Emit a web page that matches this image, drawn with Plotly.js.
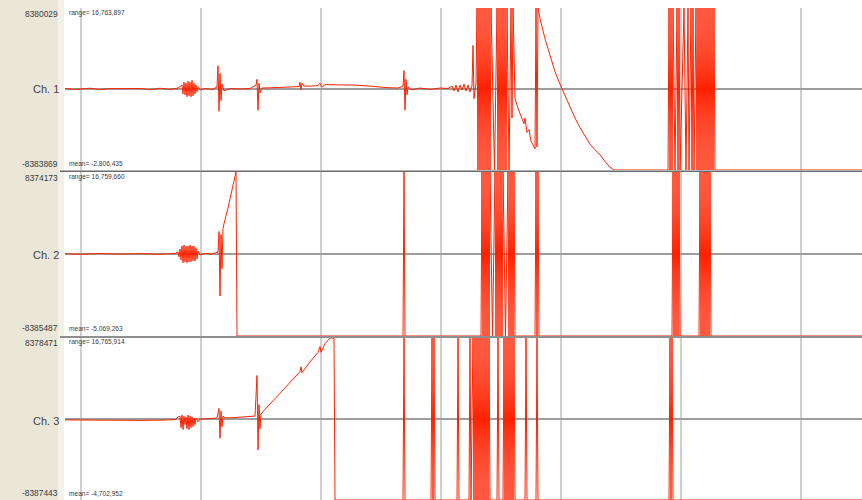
<!DOCTYPE html>
<html>
<head>
<meta charset="utf-8">
<script src="https://cdn.plot.ly/plotly-3.0.1.min.js"></script>
<style>html,body{margin:0;padding:0;background:#fff;}#chart{width:862px;height:500px;}</style>
</head>
<body>
<div id="chart"></div>
<script>
// Channel names and statistics (counts)
const channelNames = ["Ch. 1", "Ch. 2", "Ch. 3"];
const channelMax = [8380029, 8374173, 8378471];
const channelMin = [-8383869, -8385487, -8387443];
const rangeLabels = ["range= 16,763,897", "range= 16,759,660", "range= 16,765,914"];
const meanLabels = ["mean= -2,806,435", "mean= -5,069,263", "mean= -4,702,952"];

// Samples: [time (samples), value (millions of counts)]
const ch1Samples = [
[-16,0.05],[-6,-0.05],[9,0.08],[19,-0.06],[29,0.04],[44,0.02],[59,0.05],[69,-0.07],[79,0.08],[89,-0.05],[97,0.1],
[101,0.4],[102,-0.5],[103,0.7],[104,-0.6],[105,0.6],[106,-0.8],[107,0.8],[108,-0.7],[109,0.7],[110,-0.8],[111,0.9],[112,-0.7],[113,0.6],[114,-0.5],[115,0.4],[116,-0.3],[117,0.2],[119,-0.1],[124,0.05],[131,-0.05],[136,0.2],
[137,2.4],[138,-2.3],[139,1.6],[140,-1.2],[141,0.5],[143,-0.2],[149,0.05],[159,0.0],[169,0.05],
[175,0.4],[176,1.0],[177,-2.2],[178,0.6],[179,-0.4],[181,0.1],
[189,0.12],[199,0.18],[209,0.2],[218,0.25],[219,0.7],[220,-0.1],[221,0.6],[223,0.3],[229,0.3],[237,0.35],[239,0.6],[241,0.2],[244,0.45],[259,0.45],[274,0.4],[289,0.3],[304,0.15],[317,0.1],
[322,0.3],[323,1.9],[324,-2.2],[325,1.0],[326,-0.6],[327,0.2],[331,-0.1],[339,0.1],[349,-0.05],[359,0.1],[367,0.05],
[371,0.3],[373,-0.2],[375,0.4],[377,-0.3],[379,0.4],[381,-0.1],[383,0.5],[385,-0.2],[387,0.4],[389,-0.3],[391,0.3],[392,4.5],[393,-1.0],[395,0.6],
[396,8.39],[397,-8.39],[398,8.39],[399,-8.39],[400,8.39],[401,-8.39],[402,8.39],[403,-8.39],[404,8.39],[405,-8.39],[406,8.39],[407,-8.39],[408,8.39],[409,-8.39],[410,8.39],
[413.5,-8.39],[416,8.39],[417,-8.39],[418,8.39],[419,-8.39],[420,8.39],[421,-8.39],[422,8.39],[423,-8.39],[424,8.39],[425,-8.39],[426,8.39],
[428,-8.39],[430,8.39],[431,-3.0],[432,8.39],[434,-1.0],[437,-2.0],[440,-2.8],[443,-3.6],[444,-3.0],[446,-4.5],[448,-4.2],[450,-5.4],[452,-5.8],[454,-6.2],[455,8.39],[456,-6.0],[457,8.39],
[459,7.3],[464,5.2],[469,3.4],[474,1.8],[479,0.5],[484,-0.7],[489,-1.9],[494,-3.0],[499,-4.0],[504,-4.9],[509,-5.7],[514,-6.3],[519,-6.8],[524,-7.5],[529,-8.1],[533,-8.383869],
[587,-8.383869],[588,8.39],[589,-8.39],[590,8.39],[591,-8.39],[592,8.39],[594,-8.39],[596,8.39],[597,-8.39],[598,8.39],[599,-8.39],
[603,8.39],[605,-8.39],[607,8.39],[608,-8.39],[610,8.39],[611,-8.39],[612,8.39],[613,-8.39],[615,8.39],[616,-8.39],[617,8.39],
[618,-8.39],[619,8.39],[620,-8.39],[621,8.39],[622,-8.39],[623,8.39],[624,-8.39],[625,8.39],[626,-8.39],[627,8.39],[628,-8.39],[629,8.39],[630,-8.39],[631,8.39],[632,-8.39],[633,8.39],
[634,-8.383869],[781,-8.383869]
];

const ch2Samples = [
[-16,0.02],[-1,-0.03],[19,0.04],[39,-0.02],[59,0.03],[79,-0.03],[94,0.05],[97,0.2],[98,-0.3],
[99,0.5],[100,-0.6],[101,0.8],[102,-0.9],[103,0.9],[104,-0.8],[105,0.8],[106,-0.9],[107,0.8],[108,-0.8],[109,0.9],[110,-0.8],[111,0.8],[112,-0.7],[113,0.8],[114,-0.7],[115,0.6],[116,-0.5],[117,0.3],[119,-0.1],[124,0.05],[131,-0.02],
[137,0.2],[138,2.3],[139,-4.3],[140,2.0],[141,-1.5],[142,2.6],[143,3.1],[147,4.7],[151,6.4],[155,8.374173],[156,-8.385487],
[322,-8.385487],[323,8.374173],[324,-8.385487],
[400,-8.385487],[401,8.38],[402,-8.39],[403,8.38],[404,-8.39],[405,8.38],[406,-8.39],[407,8.38],[408,-8.39],[409,8.38],
[411.5,-8.39],[414,8.38],[415,-8.39],[416,8.38],[417,-8.39],[418,8.38],[419,-8.39],[420,8.38],[421,-8.39],[422,8.38],
[424.5,-8.39],[427,8.38],[428,-8.39],[429,8.38],[430,-8.39],[431,8.38],[432,-8.39],[433,8.38],[434,-8.385487],
[454,-8.385487],[455,8.38],[456,-8.39],[457,8.38],[458,-8.385487],
[591,-8.385487],[592,8.38],[593,-8.39],[594,8.38],[595,-8.39],[596,8.38],[597,-8.39],[598,8.38],[599,-8.385487],
[618,-8.385487],[619,8.38],[620,-8.39],[621,8.38],[622,-8.39],[623,8.38],[624,-8.39],[625,8.38],[626,-8.39],[627,8.38],[628,-8.39],[629,8.38],[630,-8.385487],
[781,-8.385487]
];

const ch3Samples = [
[-16,-0.1],[-1,-0.12],[19,-0.15],[39,-0.16],[59,-0.15],[79,-0.12],[94,-0.08],[97,0.2],
[99,0.3],[100,-0.9],[101,0.4],[102,-1.1],[103,0.3],[104,-0.6],[105,0.2],[106,-1.0],[107,0.4],[108,-1.1],[109,0.3],[110,-0.9],[111,0.2],[112,-0.8],[113,0.1],[114,-0.6],[115,0.1],[117,-0.3],[119,0.0],
[124,0.0],[131,0.02],[136,0.1],
[138,1.1],[139,-2.0],[140,0.8],[141,-0.8],[142,0.3],[144,0.1],[154,0.15],[164,0.2],[174,0.3],
[176,4.5],[177,-3.2],[178,1.5],[179,-1.0],[180,0.5],
[184,1.0],[194,2.1],[204,3.2],[214,4.3],[219,4.9],[220,5.4],[221,4.8],[229,5.9],[237,6.9],[239,7.5],[240,6.9],[244,7.8],[249,8.378471],[253,8.378471],[254,-8.387443],
[322,-8.387443],[323,8.38],[324,-8.387443],
[350,-8.387443],[351,8.38],[352,-8.39],[353,8.38],[354,-8.387443],
[376,-8.387443],[377,8.38],[378,-8.387443],
[388,-8.387443],[389,8.38],[390,-8.39],[392,8.38],[393,-8.39],[394,8.38],[395,-8.39],[396,8.38],[397,-8.39],[398,8.38],[399,-8.39],[400,8.38],[401,-8.39],[402,8.38],[403,-8.39],[404,8.38],[405,-8.39],[406,8.38],[407,-8.39],[408,8.38],[409,-8.39],[411,-8.387443],
[416,-8.387443],[417,8.38],[418,-8.387443],
[422,-8.387443],[423,8.38],[424,-8.39],[425,8.38],[426,-8.39],[427,8.38],[428,-8.39],[429,8.38],[430,-8.39],[431,8.38],[432,-8.39],[433,8.38],[434,-8.387443],
[444,-8.387443],[445,8.38],[446,-8.387443],
[455,-8.387443],[456,8.38],[457,-8.387443],
[588,-8.387443],[589,8.38],[590,-8.39],[591,8.38],[592,-8.387443],
[781,-8.387443]
];

const timeRange = [-16, 781];
const gridStep = 120;

const lineColor = "#ff2200";
const allSamples = [ch1Samples, ch2Samples, ch3Samples];
const yNames = ["y", "y2", "y3"];
const traces = allSamples.map((s, i) => ({
  x: s.map(p => p[0]),
  y: s.map(p => p[1]),
  xaxis: "x",
  yaxis: yNames[i],
  type: "scatter",
  mode: "lines",
  line: {color: lineColor, width: 1},
  hoverinfo: "skip",
  showlegend: false
}));

const W = 862, H = 500, L = 65, T = 8;
const pw = W - L, ph = H - T;
const px2x = px => (px - L) / pw;
const py2y = py => (H - py) / ph;

const domains = [[py2y(170), 1], [py2y(336), py2y(172)], [0, py2y(338)]];
function yAxis(i) {
  return {
    domain: domains[i],
    range: [channelMin[i] / 1e6, channelMax[i] / 1e6],
    showgrid: false,
    zeroline: true,
    zerolinecolor: "#9d9d9d",
    zerolinewidth: 2,
    showticklabels: false,
    ticks: "",
    showline: false,
    anchor: "x",
    fixedrange: true
  };
}

const labelFont = {family: "Liberation Sans, Arial, sans-serif", size: 8.4, color: "#3a3a3a"};
const smallFont = {family: "Liberation Sans, Arial, sans-serif", size: 6.6, color: "#3a3a3a"};
const chFont = {family: "Liberation Sans, Arial, sans-serif", size: 11, color: "#444"};

const topY = [14, 178, 343];
const botY = [164, 328, 493];
const midY = [89, 255, 421];
const annotations = [];
for (let i = 0; i < 3; i++) {
  annotations.push({xref: "paper", yref: "paper", x: px2x(60), y: py2y(topY[i]), xanchor: "right", yanchor: "middle",
    text: String(channelMax[i]), showarrow: false, font: labelFont});
  annotations.push({xref: "paper", yref: "paper", x: px2x(60), y: py2y(botY[i]), xanchor: "right", yanchor: "middle",
    text: String(channelMin[i]), showarrow: false, font: labelFont});
  annotations.push({xref: "paper", yref: "paper", x: px2x(67), y: py2y(topY[i] - 1), xanchor: "left", yanchor: "middle",
    text: rangeLabels[i], showarrow: false, font: smallFont});
  annotations.push({xref: "paper", yref: "paper", x: px2x(67), y: py2y(botY[i]), xanchor: "left", yanchor: "middle",
    text: meanLabels[i], showarrow: false, font: smallFont});
  annotations.push({xref: "paper", yref: "paper", x: px2x(46), y: py2y(midY[i]), xanchor: "center", yanchor: "middle",
    text: channelNames[i], showarrow: false, font: chFont});
}

const shapes = [
  {type: "rect", xref: "paper", yref: "paper", x0: px2x(0), x1: px2x(63), y0: py2y(500), y1: py2y(0),
   fillcolor: "#ebe7d8", line: {width: 0}, layer: "below"},
  {type: "rect", xref: "paper", yref: "paper", x0: px2x(58), x1: px2x(64), y0: py2y(500), y1: py2y(0),
   fillcolor: "#f3f1e8", line: {width: 0}, layer: "below"},
  {type: "line", xref: "paper", yref: "paper", x0: px2x(60), x1: 1, y0: py2y(171.3), y1: py2y(171.3),
   line: {color: "#6a6a6a", width: 1.6}},
  {type: "line", xref: "paper", yref: "paper", x0: px2x(60), x1: 1, y0: py2y(337), y1: py2y(337),
   line: {color: "#6a6a6a", width: 1.6}}
];

const layout = {
  width: W, height: H,
  margin: {l: L, r: 0, t: T, b: 0, pad: 0},
  paper_bgcolor: "#ffffff",
  plot_bgcolor: "#ffffff",
  showlegend: false,
  xaxis: {
    range: timeRange, tick0: 0, dtick: gridStep,
    showgrid: true, gridcolor: "#cfcfcf", gridwidth: 1.2,
    zeroline: false, showticklabels: false, ticks: "", showline: false,
    anchor: "y3", fixedrange: true
  },
  yaxis: yAxis(0),
  yaxis2: yAxis(1),
  yaxis3: yAxis(2),
  shapes: shapes,
  annotations: annotations
};

Plotly.newPlot("chart", traces, layout, {staticPlot: true, displayModeBar: false});
</script>
</body>
</html>
